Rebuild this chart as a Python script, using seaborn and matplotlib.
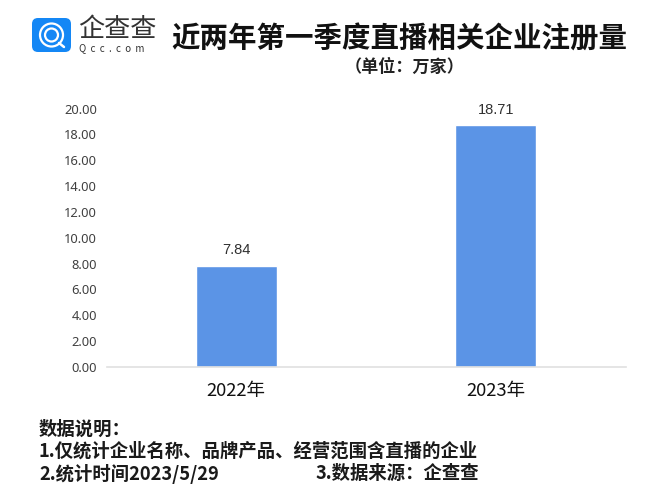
import matplotlib.pyplot as plt
from matplotlib.patches import FancyBboxPatch, Circle
import pandas as pd
import seaborn as sns

years = ['2022年', '2023年']
counts = [7.84, 18.71]
y_ticks = [0, 2, 4, 6, 8, 10, 12, 14, 16, 18, 20]

sns.set_theme(style='white')
plt.rcParams['font.family'] = ['Noto Sans CJK SC', 'DejaVu Sans']

W, H = 660, 498
df = pd.DataFrame({'year': years, 'count': counts})

fig = plt.figure(figsize=(W / 100, H / 100), dpi=100)
ax = fig.add_axes([106.5 / W, 1 - 367 / H, 519 / W, 258.5 / H])
sns.barplot(data=df, x='year', y='count', color='#5B94E6', saturation=1, width=0.3125, ax=ax)
ax.set_ylim(0, 20)
ax.set_xlim(-0.5, 1.5)
ax.set_yticks(y_ticks)
ax.set_yticklabels([f'{t:.2f}' for t in y_ticks], fontsize=9.3, color='#404040', family='Noto Sans')
ax.set_xlabel('')
ax.set_ylabel('')
ax.tick_params(axis='x', labelsize=13.3, length=0, pad=11, labelcolor='#111111')
ax.tick_params(axis='y', length=0, pad=7)
sns.despine(ax=ax, left=True)
ax.spines['bottom'].set_color('#e0e0e0')
ax.spines['bottom'].set_linewidth(1.2)
for cont in ax.containers:
    ax.bar_label(cont, fmt='%.2f', padding=6, fontsize=10.5, color='#303030', family='Liberation Sans')


def figtxt(x, y, s, **kw):
    fig.text(x / W, 1 - y / H, s, va='center', **kw)


# title block
figtxt(171, 39.5, '近两年第一季度直播相关企业注册量', fontsize=20.5, fontweight='bold', color='#111111')
figtxt(345, 67, '（单位：万家）', fontsize=12.3, fontweight='bold', color='#222222')

# logo
overlay = fig.add_axes([0, 0, 1, 1], facecolor='none')
overlay.set_xlim(0, W)
overlay.set_ylim(H, 0)
overlay.axis('off')
overlay.add_patch(FancyBboxPatch((36, 22), 31, 26, boxstyle='round,pad=4,rounding_size=6',
                                 fc='#1487F5', ec='none'))
overlay.add_patch(Circle((51.5, 35), 11.5, fc='none', ec='white', lw=1.6))
overlay.add_patch(Circle((51.5, 35), 6.5, fc='none', ec='white', lw=1.6))
overlay.plot([59, 64], [43, 47], color='white', lw=1.8)
figtxt(78, 29.5, '企查查', fontsize=18.8, color='#333333', fontweight='light')
figtxt(79, 48, 'Q  c  c  .  c  o  m', fontsize=7, color='#333333', fontweight='medium')

# notes
note_kw = dict(fontsize=13.2, fontweight='bold', color='#1a1a1a')
figtxt(39, 429.5, '数据说明：', **note_kw)
figtxt(39, 451.5, '1.仅统计企业名称、品牌产品、经营范围含直播的企业', **note_kw)
figtxt(39, 473.5, '2.统计时间2023/5/29', **note_kw)
figtxt(315, 473.5, '3.数据来源：企查查', **note_kw)

fig.savefig('out.png', dpi=100)
